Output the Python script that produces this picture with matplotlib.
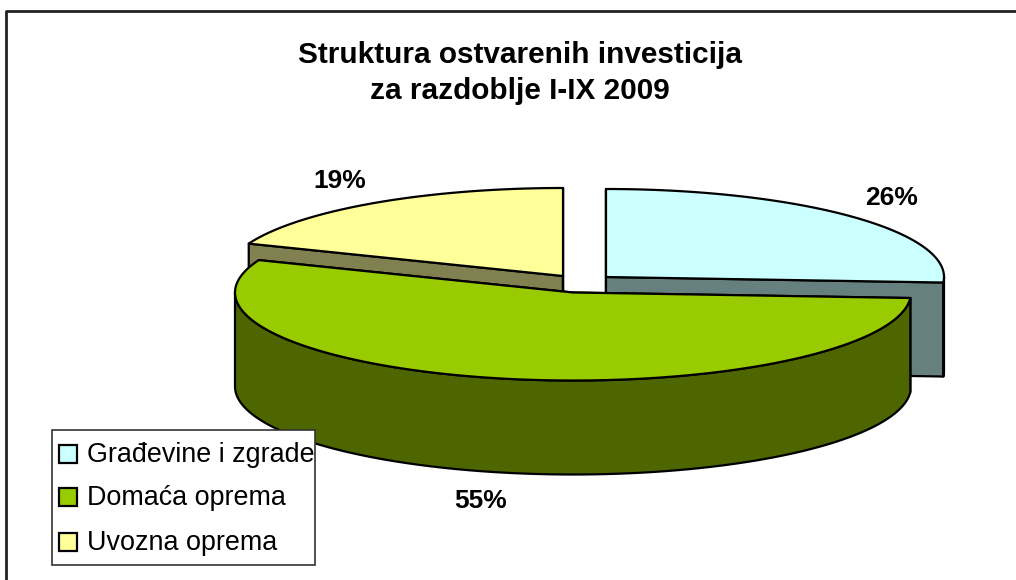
import numpy as np
import matplotlib
matplotlib.use("Agg")
import matplotlib.pyplot as plt
from matplotlib.patches import Rectangle

# Data
labels = ["Građevine i zgrade", "Domaća oprema", "Uvozna oprema"]
shares = [26, 55, 19]

# Colours: top face and side wall for each slice
top_colors = ["#CCFFFF", "#99CC00", "#FFFF99"]
wall_colors = ["#668080", "#4D6600", "#808050"]

plt.rcParams["font.family"] = ["Liberation Sans", "DejaVu Sans"]

# Pie geometry in pixels
centers = [(606, 277), (573, 292.5), (563, 276)]
rx, ry = 338, 88
depth = 94
lw = 1.6

fig = plt.figure(figsize=(10.16, 5.80), dpi=100)
ax = fig.add_axes([0, 0, 1, 1])
ax.set_xlim(0, 1016)
ax.set_ylim(580, 0)
ax.axis("off")


def arc(center, start, end):
    # angles in degrees, clockwise from 12 o'clock
    t = np.radians(np.linspace(start, end, 200))
    return center[0] + rx * np.sin(t), center[1] - ry * np.cos(t)


def poly(xs, ys, color, z):
    ax.fill(xs, ys, facecolor=color, edgecolor="black", linewidth=lw, joinstyle="round", zorder=z)


# Slice angles from the shares
ends = np.cumsum(shares) / sum(shares) * 360
starts = np.concatenate([[0], ends[:-1]])

# back to front: imports, buildings, domestic
for i, z in [(2, 2), (0, 3), (1, 4)]:
    c = centers[i]
    a, b = starts[i], ends[i]

    # flat walls along the cuts
    for ang in (a, b):
        ex, ey = arc(c, ang, ang)
        ex, ey = ex[0], ey[0]
        poly([c[0], ex, ex, c[0]], [c[1], ey, ey + depth, c[1] + depth], wall_colors[i], z)

    # outer curved wall, only the part that faces the viewer
    lo, hi = max(a, 90), min(b, 270)
    if lo < hi:
        xs, ys = arc(c, lo, hi)
        poly(np.r_[xs, xs[::-1]], np.r_[ys, ys[::-1] + depth], wall_colors[i], z)

    # top face
    xs, ys = arc(c, a, b)
    poly(np.r_[c[0], xs], np.r_[c[1], ys], top_colors[i], z + 0.5)

# Percent labels
label_pos = [(892, 198), (481, 501), (340, 181)]
for s, (x, y) in zip(shares, label_pos):
    ax.text(x, y, f"{s}%", ha="center", va="center", fontsize=19, fontweight="bold", zorder=6)

# Title
ax.text(520, 73, "Struktura ostvarenih investicija\nza razdoblje I-IX 2009", ha="center", va="center",
        fontsize=21.4, fontweight="bold", linespacing=1.4, zorder=6)

# Chart border, cut off at the right and bottom
ax.plot([6, 6, 1016], [580, 11, 11], color="#222222", linewidth=2, zorder=1)

# Legend
ax.add_patch(Rectangle((52, 430), 263, 135, facecolor="white", edgecolor="#333333", linewidth=1.2, zorder=7))
for name, col, base in zip(labels, top_colors, [462, 505, 550]):
    ax.add_patch(Rectangle((59, base - 17), 18, 18, facecolor=col, edgecolor="black", linewidth=lw, zorder=8))
    ax.text(87, base, name, ha="left", va="baseline", fontsize=19.4, zorder=8)

plt.savefig("out.png", dpi=100)
